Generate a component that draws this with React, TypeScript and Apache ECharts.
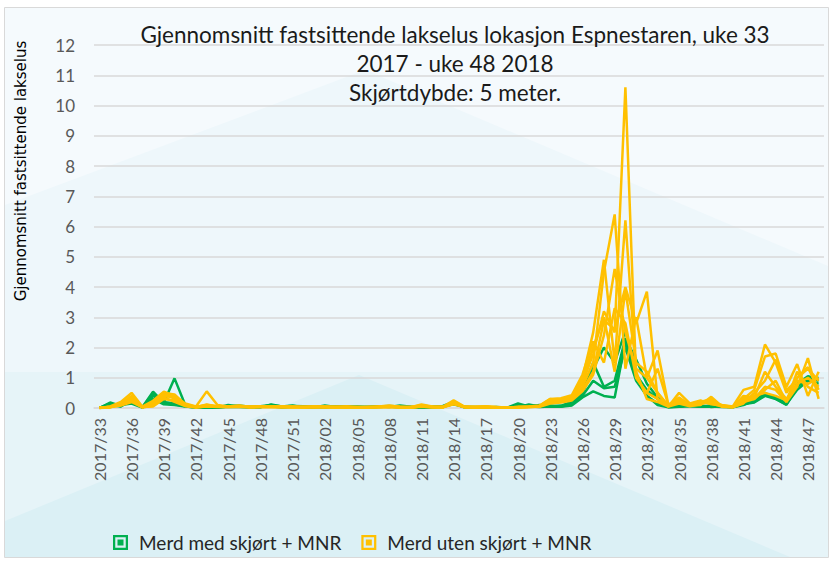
import React, { useEffect, useRef } from "react";
import * as echarts from "echarts";

const titleLines = [
  "Gjennomsnitt fastsittende lakselus lokasjon Espnestaren, uke 33",
  "2017 - uke 48 2018",
  "Skjørtdybde: 5 meter.",
];
const yAxisTitle = "Gjennomsnitt fastsittende lakselus";
const legendNames = ["Merd med skjørt + MNR", "Merd uten skjørt + MNR"];

const weeks = [
  "2017/33","2017/34","2017/35","2017/36","2017/37","2017/38","2017/39","2017/40","2017/41","2017/42",
  "2017/43","2017/44","2017/45","2017/46","2017/47","2017/48","2017/49","2017/50","2017/51","2017/52",
  "2018/01","2018/02","2018/03","2018/04","2018/05","2018/06","2018/07","2018/08","2018/09","2018/10",
  "2018/11","2018/12","2018/13","2018/14","2018/15","2018/16","2018/17","2018/18","2018/19","2018/20",
  "2018/21","2018/22","2018/23","2018/24","2018/25","2018/26","2018/27","2018/28","2018/29","2018/30",
  "2018/31","2018/32","2018/33","2018/34","2018/35","2018/36","2018/37","2018/38","2018/39","2018/40",
  "2018/41","2018/42","2018/43","2018/44","2018/45","2018/46","2018/47","2018/48",
];

// Merd med skjørt + MNR (green)
const green1 = [0,0.18,0.07,0.37,0.03,0.54,0.17,0.98,0.1,0.03, 0.02,0.03,0.06,0.08,0.04,0.06,0.1,0.05,0.07,0.06, 0.04,0.05,0.06,0.03,0.05,0.03,0.05,0.07,0.05,0.03, 0.03,0.04,0.07,0.2,0.04,0.03,0.03,0.02,0.02,0.03, 0.12,0.05,0.08,0.06,0.1,0.5,1.3,2.0,1.5,2.55, 1.1,0.6,0.3,0.08,0.05,0.08,0.05,0.08,0.05,0.04, 0.15,0.2,0.45,0.35,0.15,0.8,1.05,0.95];
const green2 = [0,0.1,0.05,0.25,0.02,0.4,0.2,0.15,0.1,0.02, 0.02,0.02,0.1,0.05,0.03,0.02,0.12,0.05,0.08,0.02, 0.02,0.08,0.03,0.06,0.02,0.04,0.06,0.03,0.08,0.04, 0.02,0.03,0.05,0.12,0.03,0.01,0.02,0.03,0.01,0.15, 0.05,0.1,0.04,0.08,0.2,0.4,0.9,0.65,0.7,2.0, 0.9,0.4,0.15,0.03,0.05,0.1,0.08,0.03,0.06,0.02, 0.1,0.25,0.5,0.3,0.12,0.6,0.9,0.8];
const green3 = [0,0.12,0.1,0.15,0.01,0.3,0.12,0.1,0.05,0.02, 0.01,0.01,0.04,0.03,0.02,0.04,0.06,0.02,0.04,0.05, 0.03,0.02,0.04,0.02,0.03,0.02,0.03,0.05,0.02,0.02, 0.02,0.02,0.03,0.15,0.02,0.02,0.03,0.01,0.02,0.05, 0.06,0.03,0.05,0.04,0.08,0.35,0.55,0.4,0.35,2.2, 1.0,0.4,0.1,0.02,0.04,0.06,0.04,0.05,0.03,0.03, 0.12,0.18,0.4,0.3,0.1,0.7,0.95,1.0];
const green4 = [0,0.15,0.06,0.3,0.02,0.5,0.15,0.12,0.06,0.01, 0.02,0.02,0.05,0.06,0.03,0.03,0.08,0.03,0.05,0.03, 0.03,0.03,0.05,0.04,0.04,0.02,0.04,0.06,0.03,0.03, 0.02,0.03,0.04,0.18,0.03,0.02,0.02,0.02,0.01,0.08, 0.08,0.06,0.06,0.05,0.15,0.6,1.5,0.7,0.9,2.3, 1.6,0.8,0.35,0.05,0.06,0.08,0.06,0.06,0.04,0.03, 0.14,0.22,0.42,0.32,0.14,0.75,1.0,0.9];

// Merd uten skjørt + MNR (yellow)
const yellow1 = [0,0.05,0.2,0.5,0.05,0.24,0.54,0.4,0.15,0.05, 0.55,0.1,0.05,0.08,0.04,0.05,0.06,0.04,0.05,0.03, 0.04,0.05,0.03,0.04,0.02,0.03,0.05,0.08,0.04,0.03, 0.12,0.05,0.04,0.25,0.05,0.04,0.05,0.03,0.02,0.03, 0.05,0.08,0.3,0.25,0.4,0.8,1.8,3.2,2.5,10.6, 1.0,0.5,0.3,0.1,0.3,0.1,0.15,0.2,0.1,0.05, 0.6,0.7,2.1,1.5,0.5,1.0,1.3,0.9];
const yellow2 = [0,0.02,0.15,0.3,0.02,0.1,0.45,0.35,0.1,0.03, 0.08,0.05,0.04,0.06,0.03,0.04,0.03,0.05,0.03,0.02, 0.03,0.02,0.04,0.02,0.03,0.02,0.04,0.06,0.03,0.02, 0.06,0.03,0.03,0.2,0.03,0.03,0.04,0.02,0.02,0.02, 0.04,0.06,0.25,0.2,0.35,1.0,2.5,4.9,1.5,6.2, 1.2,0.3,0.2,0.05,0.5,0.15,0.25,0.12,0.08,0.04, 0.3,0.6,1.7,1.8,0.7,1.45,0.4,1.2];
const yellow3 = [0,0.03,0.1,0.25,0.03,0.05,0.3,0.25,0.08,0.02, 0.05,0.03,0.03,0.05,0.02,0.03,0.04,0.03,0.02,0.03, 0.02,0.03,0.02,0.03,0.02,0.02,0.03,0.04,0.02,0.02, 0.05,0.02,0.02,0.15,0.02,0.02,0.03,0.02,0.01,0.02, 0.03,0.05,0.2,0.3,0.3,0.7,1.5,4.5,6.4,1.3, 3.0,1.0,0.5,0.08,0.2,0.08,0.1,0.37,0.05,0.03, 0.2,0.3,0.6,0.9,0.2,0.7,1.65,0.3];
const yellow4 = [0,0.04,0.12,0.35,0.04,0.15,0.5,0.3,0.12,0.04, 0.1,0.06,0.05,0.07,0.04,0.05,0.05,0.04,0.04,0.04, 0.05,0.04,0.03,0.05,0.03,0.03,0.04,0.05,0.03,0.03, 0.08,0.04,0.03,0.22,0.04,0.03,0.04,0.03,0.02,0.03, 0.04,0.07,0.28,0.22,0.32,0.6,1.2,2.9,2.6,4.0, 2.8,3.85,0.3,0.05,0.25,0.12,0.2,0.3,0.06,0.04, 0.25,0.4,0.5,0.4,0.25,1.0,1.35,0.6];
const yellow5 = [0,0.03,0.08,0.2,0.02,0.08,0.35,0.2,0.06,0.02, 0.06,0.04,0.03,0.04,0.03,0.03,0.03,0.02,0.03,0.02, 0.03,0.03,0.02,0.02,0.02,0.03,0.02,0.03,0.02,0.02, 0.04,0.03,0.02,0.12,0.03,0.02,0.02,0.02,0.02,0.03, 0.03,0.04,0.15,0.18,0.25,0.55,1.1,2.4,4.6,2.5, 1.3,1.0,1.9,0.1,0.35,0.1,0.18,0.15,0.05,0.03, 0.4,0.35,1.2,0.7,0.3,0.8,1.0,0.7];
const yellow6 = [0,0.02,0.1,0.3,0.03,0.12,0.4,0.35,0.1,0.03, 0.07,0.04,0.04,0.05,0.03,0.04,0.04,0.03,0.03,0.03, 0.04,0.03,0.03,0.03,0.02,0.02,0.03,0.04,0.03,0.02, 0.05,0.03,0.03,0.18,0.03,0.02,0.03,0.02,0.02,0.02, 0.03,0.05,0.22,0.28,0.38,0.9,2.0,3.0,1.2,3.9, 1.5,1.2,0.5,0.05,0.15,0.06,0.12,0.25,0.04,0.02, 0.15,0.5,0.9,1.6,0.6,0.9,0.8,1.0];
const yellow7 = [0,0.04,0.15,0.4,0.04,0.18,0.5,0.45,0.12,0.03, 0.12,0.05,0.04,0.06,0.03,0.05,0.05,0.04,0.04,0.03, 0.04,0.04,0.03,0.04,0.03,0.03,0.04,0.06,0.03,0.03, 0.08,0.04,0.03,0.2,0.04,0.03,0.04,0.02,0.02,0.03, 0.04,0.06,0.3,0.32,0.42,1.1,2.2,1.5,3.3,2.8, 1.0,0.5,1.3,0.1,0.3,0.12,0.2,0.18,0.06,0.03, 0.35,0.3,0.7,0.6,0.2,1.2,0.7,0.5];

const greenSeries = [green1, green2, green3, green4];
const yellowSeries = [yellow1, yellow2, yellow3, yellow4, yellow5, yellow6, yellow7];

const GREEN = "#00b050";
const YELLOW = "#ffc000";
const FONT = "Lato";

export default function App() {
  const ref = useRef<HTMLDivElement>(null);
  useEffect(() => {
    if (!ref.current) return;
    const chart = echarts.init(ref.current, null, { renderer: "svg" });
    const mk = (name: string, data: number[], color: string) => ({
      type: "line",
      name,
      data,
      symbol: "none",
      showSymbol: false,
      lineStyle: { color, width: 2.5 },
      itemStyle: { color },
      z: 3,
    });
    const series: any[] = [
      ...greenSeries.map((d) => mk(legendNames[0], d, GREEN)),
      ...yellowSeries.map((d) => mk(legendNames[1], d, YELLOW)),
    ];
    chart.setOption({
      animation: false,
      backgroundColor: "#ffffff",
      graphic: [
        { type: "rect", z: -20, silent: true, shape: { x: 5, y: 7, width: 823, height: 550 }, style: { fill: "#f5fafd" } },
        { type: "polygon", z: -19, silent: true, shape: { points: [[5, 205], [365, 70], [828, 266], [828, 557], [5, 557]] }, style: { fill: "#eef7fb" } },
        { type: "rect", z: -18, silent: true, shape: { x: 5, y: 372, width: 823, height: 185 }, style: { fill: "#e6f4f8" } },
        { type: "polygon", z: -17, silent: true, shape: { points: [[359, 375], [5, 521], [5, 557], [790, 557]] }, style: { fill: "#dbf0f5" } },
        { type: "rect", z: -16, silent: true, shape: { x: 4.5, y: 7.5, width: 824, height: 550 }, style: { fill: "none", stroke: "#d9d9d9", lineWidth: 1 } },
        {
          type: "text",
          z: 10,
          x: 21,
          y: 171,
          rotation: Math.PI / 2,
          style: {
            text: yAxisTitle,
            fontFamily: "DejaVu Sans",
            fontSize: 15,
            fill: "#000000",
            textAlign: "center",
            textVerticalAlign: "middle",
          },
        },
      ],
      title: {
        text: titleLines.join("\n"),
        left: 450,
        top: 15,
        textAlign: "center",
        textStyle: { fontFamily: FONT, fontSize: 22.5, lineHeight: 29, fontWeight: "normal", color: "#1a1a1a" },
      },
      legend: {
        data: legendNames,
        left: 108,
        top: 528,
        itemWidth: 15,
        itemHeight: 15,
        itemGap: 20,
        icon: "path://M0,0H20V20H0Z M3,3V17H17V3Z M6,6H14V14H6Z",
        itemStyle: { borderWidth: 0 },
        textStyle: { fontFamily: FONT, fontSize: 19, color: "#262626", padding: [0, 0, 0, 6] },
      },
      grid: { left: 94, right: 10, top: 45, bottom: 154, containLabel: false },
      xAxis: {
        type: "category",
        data: weeks,
        boundaryGap: true,
        axisLine: { show: true, lineStyle: { color: "#d9d9d9", width: 1.5 } },
        axisTick: { show: false },
        axisLabel: { interval: 2, rotate: 90, fontFamily: FONT, fontSize: 16, color: "#595959", margin: 10 },
        splitLine: { show: false },
      },
      yAxis: {
        type: "value",
        min: 0,
        max: 12,
        interval: 1,
        axisLine: { show: false },
        axisTick: { show: false },
        axisLabel: { fontFamily: FONT, fontSize: 17, color: "#595959", margin: 19 },
        splitLine: { lineStyle: { color: "#d9d9d9", width: 1.5 } },
      },
      series,
    });
    return () => chart.dispose();
  }, []);
  return <div ref={ref} style={{ position: "fixed", left: 0, top: 0, width: 834, height: 562 }} />;
}
